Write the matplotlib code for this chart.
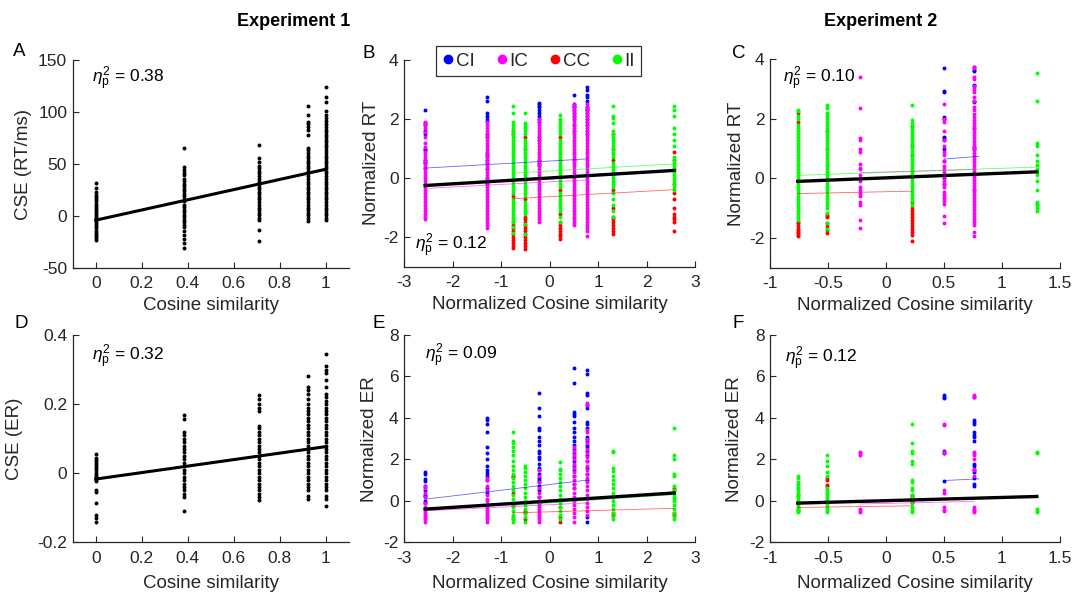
import matplotlib
matplotlib.use("Agg")
import matplotlib.pyplot as plt
from matplotlib.lines import Line2D
from matplotlib.ticker import FormatStrFormatter

plt.rcParams['font.family'] = ['Liberation Sans', 'DejaVu Sans']
plt.rcParams['axes.unicode_minus'] = False
plt.rcParams['mathtext.fontset'] = 'custom'
plt.rcParams['mathtext.it'] = 'Liberation Sans:italic'
plt.rcParams['mathtext.rm'] = 'Liberation Sans'

# ---------------- Experiment 1, raw CSE (panels A, D) ----------------
COS_X = [0.0, 0.383, 0.707, 0.924, 1.0]

A_Y = [
    [-23, -21, -19, -18, -16, -14, -12, -10, -8, -6, -4, -2, 0, 2, 4, 6, 8, 10, 12, 14, 16, 18, 20, 23, 27, 32],
    [-31, -26, -22, -18, -14, -11, -9, -6, -4, -1, 1, 4, 6, 9, 11, 14, 16, 19, 21, 24, 26, 29, 31, 34, 36, 39,
     41, 44, 47, 65],
    [-24, -13, -4, -2, 1, 3, 6, 8, 11, 13, 16, 18, 21, 23, 26, 28, 31, 33, 36, 38, 41, 43, 46, 48, 52, 56, 68],
    [-5, -2, 1, 3, 6, 8, 11, 13, 16, 18, 21, 23, 26, 28, 31, 33, 36, 38, 41, 43, 46, 48, 51, 53, 56, 58, 61, 63,
     65, 78, 83, 86, 88, 90, 97, 106],
    [-4, -2, 1, 3, 6, 8, 11, 13, 16, 18, 21, 23, 26, 28, 31, 33, 36, 38, 41, 43, 46, 48, 51, 53, 56, 58, 61, 63,
     66, 68, 71, 73, 76, 78, 81, 83, 86, 88, 91, 94, 97, 101, 110, 114, 124],
]
A_FIT = [-4, 45]

D_Y = [
    [-0.14, -0.13, -0.122, -0.085, -0.055, -0.05, -0.024, -0.018, -0.01, -0.004, 0.002, 0.008, 0.014, 0.02,
     0.026, 0.032, 0.038, 0.044, 0.055],
    [-0.108, -0.07, -0.06, -0.05, -0.04, -0.03, -0.02, -0.01, 0.0, 0.01, 0.02, 0.03, 0.04, 0.05, 0.06, 0.07,
     0.08, 0.09, 0.1, 0.11, 0.12, 0.157, 0.168],
    [-0.078, -0.07, -0.06, -0.05, -0.04, -0.03, -0.02, -0.01, 0.0, 0.01, 0.02, 0.03, 0.04, 0.05, 0.06, 0.07,
     0.08, 0.09, 0.1, 0.11, 0.12, 0.13, 0.138, 0.18, 0.19, 0.2, 0.215, 0.225],
    [-0.075, -0.065, -0.05, -0.04, -0.03, -0.02, -0.01, 0.0, 0.01, 0.02, 0.03, 0.04, 0.05, 0.06, 0.07, 0.08,
     0.09, 0.1, 0.11, 0.12, 0.13, 0.14, 0.15, 0.16, 0.17, 0.18, 0.19, 0.2, 0.215, 0.228, 0.24, 0.25, 0.28],
    [-0.095, -0.075, -0.065, -0.05, -0.04, -0.03, -0.02, -0.01, 0.0, 0.01, 0.02, 0.03, 0.04, 0.05, 0.06, 0.07,
     0.08, 0.09, 0.1, 0.11, 0.12, 0.13, 0.14, 0.15, 0.16, 0.17, 0.18, 0.19, 0.2, 0.21, 0.22, 0.23, 0.25, 0.27,
     0.29, 0.3, 0.31, 0.345],
]
D_FIT = [-0.017, 0.077]

CONDS = ['CI', 'IC', 'CC', 'II']
COLORS = {'CI': '#0000ff', 'IC': '#ff00ff', 'CC': '#ff0000', 'II': '#00ff00'}

# ---------------- Experiment 1, normalized RT (panel B) ----------------
B_X = {'CI': [-2.57, -1.30, -0.21, 0.50, 0.77], 'IC': [-2.57, -1.30, -0.21, 0.50, 0.77],
       'CC': [-0.76, -0.51, 0.22, 1.30, 2.57], 'II': [-0.76, -0.51, 0.22, 1.30, 2.57]}
B_CI = [
    [2.3, 1.85, 1.8, 1.6, 1.5, 1.0, 0.95, 0.6, 0.55, 0.5, 0.35],
    [2.75, 2.6, 2.2, 2.1, 2.0, 1.95, 1.5, 1.4, 0.8, 0.75, 0.6, 0.5, 0.3, 0.0, -0.2],
    [2.55, 2.5, 2.45, 2.4, 2.3, 2.2, 2.1, 2.0, 1.9, 1.4, 1.3, 0.6, 0.5, 0.45],
    [2.8, 2.5, 2.45, 2.4, 2.3, 2.2, 2.1, 2.0, 1.8, 1.6, 0.6],
    [3.1, 3.0, 2.8, 2.75, 2.6, 2.4, 2.35, 2.3, 2.2, 2.1, 2.0, 1.9, 1.8, 1.6, 1.5],
]
B_IC = [
    [1.9, 1.8, 1.7, 1.55, 1.4, 1.2, 1.05, 0.9, 0.8, 0.7, 0.6, 0.5, 0.4, 0.3, 0.2, 0.1, 0.0, -0.1, -0.2, -0.3,
     -0.4, -0.5, -0.6, -0.7, -0.8, -0.9, -1.0, -1.1, -1.2, -1.3, -1.4],
    [1.9, 1.8, 1.7, 1.6, 1.5, 1.4, 1.3, 1.2, 1.1, 1.0, 0.9, 0.8, 0.7, 0.6, 0.5, 0.4, 0.3, 0.2, 0.1, 0.0, -0.1,
     -0.2, -0.3, -0.4, -0.5, -0.6, -0.7, -0.8, -0.9, -1.0, -1.1, -1.2, -1.3, -1.4, -1.5, -1.6, -1.7],
    [2.0, 1.9, 1.8, 1.7, 1.6, 1.5, 1.4, 1.3, 1.2, 1.1, 1.0, 0.9, 0.8, 0.7, 0.6, 0.5, 0.4, 0.3, 0.2, 0.1, 0.0,
     -0.1, -0.2, -0.3, -0.4, -0.5, -0.6, -0.7, -0.8, -0.9, -1.0, -1.1, -1.2, -1.3, -1.4, -1.5],
    [2.5, 2.4, 2.3, 2.2, 2.1, 2.0, 1.9, 1.8, 1.7, 1.6, 1.5, 1.4, 1.3, 1.2, 1.1, 1.0, 0.9, 0.8, 0.7, 0.6, 0.5,
     0.4, 0.3, 0.2, 0.1, 0.0, -0.1, -0.2, -0.3, -0.4, -0.5, -0.6, -0.7, -0.8, -0.9, -1.0, -1.1, -1.2, -1.3,
     -1.4, -1.5, -1.6],
    [2.5, 2.4, 2.3, 2.2, 2.1, 2.0, 1.9, 1.8, 1.7, 1.6, 1.5, 1.4, 1.3, 1.2, 1.1, 1.0, 0.9, 0.8, 0.7, 0.6, 0.5,
     0.4, 0.3, 0.2, 0.1, 0.0, -0.1, -0.2, -0.3, -0.4, -0.5, -0.6, -0.7, -0.8, -0.9, -1.0, -1.1, -1.2, -1.3,
     -1.4, -1.5, -1.6, -1.7, -1.8, -1.95],
]
B_CC = [
    [-2.35, -2.3, -2.2, -2.1, -2.0, -1.9, -1.8, -1.7, -1.6, -1.5, -0.6, 1.5, 1.6],
    [-2.4, -2.3, -2.2, -2.1, -2.0, -1.9, -1.8, -1.7, -1.6, -1.5, -1.4, -1.3, -0.7, 1.0, 1.4],
    [-2.05, -1.95, -1.9, -1.8, -1.7, -1.6, -1.5, -1.2, -0.4, 0.6, 1.4],
    [-1.9, -1.8, -1.7, -1.6, -1.5, -1.4, -1.3, -1.0, -0.4, 0.6, 1.0, 1.5],
    [-1.8, -1.5, -1.4, -1.3, -1.2, -1.0, -0.7, -0.5, -0.2, 0.3, 0.6, 0.9],
]
B_II = [
    [2.45, 2.2, 1.9, 1.8, 1.7, 1.6, 1.5, 1.4, 1.3, 1.2, 1.1, 1.0, 0.9, 0.8, 0.7, 0.6, 0.5, 0.4, 0.3, 0.2, 0.1,
     0.0, -0.1, -0.2, -0.3, -0.4, -0.5, -0.7, -0.8, -0.9, -1.0, -1.1, -1.2, -1.3, -1.4, -1.5, -1.65, -1.85],
    [2.2, 1.85, 1.8, 1.7, 1.6, 1.5, 1.3, 1.2, 1.1, 1.0, 0.9, 0.8, 0.7, 0.6, 0.5, 0.4, 0.3, 0.2, 0.1, 0.0,
     -0.1, -0.2, -0.3, -0.4, -0.5, -0.6, -0.8, -0.9, -1.0, -1.1, -1.2, -1.55, -1.9],
    [2.15, 2.0, 1.9, 1.8, 1.7, 1.6, 1.5, 1.3, 1.2, 1.1, 1.0, 0.9, 0.8, 0.7, 0.6, 0.5, 0.4, 0.3, 0.2, 0.1, 0.0,
     -0.1, -0.2, -0.3, -0.5, -0.6, -0.7, -0.8, -0.9, -1.0, -1.1, -1.3, -1.5],
    [2.45, 2.1, 2.05, 1.85, 1.6, 1.5, 1.4, 1.3, 1.2, 1.1, 1.0, 0.9, 0.8, 0.7, 0.5, 0.4, 0.3, 0.2, 0.1, 0.0,
     -0.1, -0.2, -0.3, -0.5, -0.7, -0.9, -1.1, -1.3],
    [2.45, 2.3, 2.1, 1.7, 1.5, 1.3, 1.1, 0.7, 0.6, 0.5, 0.4, 0.3, 0.2, 0.1, 0.0, -0.1, -0.2, -0.3, -0.4],
]
B_FIT = {'CI': [(-2.57, 0.34), (0.77, 0.65)], 'IC': [(-2.57, -0.35), (0.77, -0.06)],
         'CC': [(-0.76, -0.70), (2.57, -0.39)], 'II': [(-0.76, 0.17), (2.57, 0.48)],
         'all': [(-2.57, -0.25), (2.57, 0.26)]}

# ---------------- Experiment 2, normalized RT (panel C) ----------------
C_X = {'CI': [0.50, 0.76], 'IC': [-0.22, 0.50, 0.76],
       'CC': [-0.76, -0.51, 0.22], 'II': [-0.76, -0.51, 0.22, 1.30]}
C_CI = [
    [3.7, 2.95, 2.9, 2.05, 2.0, 1.4, 1.35, 1.3, 1.0, 0.6, 0.0, -0.2],
    [3.75, 3.65, 3.6, 3.15, 3.1, 2.6, 2.55, 1.7, 1.05, 1.0, 0.1, -0.4],
]
C_IC = [
    [3.4, 2.35, 1.35, 1.3, 1.0, 0.9, 0.5, 0.35, 0.3, 0.1, -0.1, -0.3, -0.4, -0.5, -0.6, -0.8, -0.9, -1.4, -1.65],
    [2.5, 2.0, 1.9, 1.6, 1.3, 1.1, 0.9, 0.8, 0.6, 0.4, 0.3, 0.2, 0.1, 0.0, -0.1, -0.2, -0.3, -0.45, -0.55,
     -0.65, -0.75, -0.85, -1.25, -1.5],
    [3.75, 3.7, 3.4, 3.35, 3.1, 3.0, 2.9, 2.75, 2.6, 2.4, 2.3, 2.15, 2.05, 1.95, 1.85, 1.75, 1.65, 1.55, 1.45,
     1.35, 1.25, 1.15, 1.05, 0.95, 0.85, 0.75, 0.65, 0.55, 0.45, 0.35, 0.25, 0.15, 0.05, -0.05, -0.15, -0.25,
     -0.35, -0.45, -0.55, -0.65, -0.75, -0.85, -0.95, -1.05, -1.15, -1.25, -1.35, -1.45, -1.55, -1.8, -1.95],
]
C_CC = [
    [-1.95, -1.9, -1.85, -1.8, -1.75, -1.7, -1.6, -1.5, -1.45, 1.9, 2.2],
    [-1.85, -1.75, -1.6, -1.5, -1.3, -1.25, -1.2, 1.0, 1.6],
    [-2.1, -1.9, -1.8, -1.7, -1.6, -1.5, -1.4, -1.3, -1.2, -1.1, -1.0, -0.8, 0.25, 0.8, 1.1, 1.75],
]
C_II = [
    [2.3, 2.25, 2.1, 2.0, 1.8, 1.7, 1.6, 1.5, 1.4, 1.3, 1.2, 1.1, 1.0, 0.9, 0.8, 0.7, 0.6, 0.5, 0.4, 0.3, 0.2,
     0.1, 0.0, -0.1, -0.2, -0.3, -0.4, -0.5, -0.6, -0.7, -0.8, -0.9, -1.0, -1.1, -1.2, -1.3, -1.4],
    [2.45, 2.35, 2.2, 2.1, 2.0, 1.9, 1.8, 1.7, 1.6, 1.5, 1.4, 1.3, 1.2, 1.1, 1.0, 0.9, 0.8, 0.7, 0.6, 0.5, 0.4,
     0.3, 0.2, 0.1, 0.0, -0.1, -0.2, -0.3, -0.4, -0.5, -0.6, -0.7, -0.8, -0.9, -1.0, -1.15, -1.5, -1.7],
    [2.45, 1.95, 1.85, 1.75, 1.65, 1.55, 1.45, 1.35, 1.25, 1.15, 1.05, 0.95, 0.85, 0.75, 0.65, 0.55, 0.45,
     0.35, 0.25, 0.15, 0.05, -0.05, -0.15, -0.25, -0.35, -0.45, -0.55, -0.65, -0.75, -0.9],
    [3.55, 2.6, 1.2, 1.1, 0.8, 0.6, 0.45, 0.3, 0.2, 0.1, -0.1, -0.4, -0.8, -0.85, -0.9, -1.0, -1.1],
]
C_FIT = {'CI': [(0.50, 0.65), (0.80, 0.74)], 'IC': [(-0.22, 0.19), (0.76, 0.30)],
         'CC': [(-0.76, -0.51), (0.22, -0.43)], 'II': [(-0.76, 0.10), (1.30, 0.38)],
         'all': [(-0.76, -0.10), (1.30, 0.22)]}

# ---------------- Experiment 1, normalized ER (panel E) ----------------
E_X = B_X
E_CI = [
    [1.4, 1.3, 1.05, 0.95, 0.7, 0.5, 0.3, 0.25, 0.0, -0.1],
    [4.0, 3.9, 3.7, 3.3, 2.6, 2.3, 2.0, 1.7, 1.5, 1.35, 1.2, 1.0, 0.6, 0.4],
    [5.2, 4.5, 4.1, 3.5, 3.4, 3.1, 2.9, 2.7, 2.4, 2.3, 2.1, 2.0, 1.8, 1.6, 1.5, 1.3, 1.1, 1.0, 0.9, 0.7, 0.5,
     0.2],
    [6.4, 5.7, 4.3, 4.2, 4.1, 3.8, 3.5, 3.3, 3.1, 2.9, 2.7, 2.5, 2.3, 2.1, 1.9, 1.7, 1.5, 1.2, 0.8, 0.6],
    [6.3, 6.1, 5.2, 5.1, 4.6, 4.5, 3.8, 3.7, 3.5, 3.1, 3.0, 2.9, 2.7, 2.6, 2.4, 2.2, 1.9, 1.6, 1.3, 1.0, -0.8,
     -1.0],
]
E_IC = [
    [0.7, 0.6, 0.4, 0.2, -0.1, -0.3, -0.4, -0.5, -0.6, -0.7, -0.8, -0.9, -1.0],
    [1.1, 1.0, 0.7, 0.5, 0.3, 0.1, 0.0, -0.2, -0.3, -0.4, -0.5, -0.6, -0.7, -0.8, -0.9, -1.0],
    [1.5, 1.2, 0.9, 0.6, 0.4, 0.2, 0.0, -0.1, -0.2, -0.3, -0.4, -0.5, -0.6, -0.7, -0.8, -0.9, -1.0],
    [2.6, 2.4, 2.2, 2.0, 1.8, 1.6, 1.4, 1.2, 1.0, 0.8, 0.6, 0.4, 0.2, 0.0, -0.2, -0.4, -0.6, -0.8, -1.0],
    [4.7, 4.6, 3.4, 3.3, 3.0, 2.8, 2.5, 2.3, 2.1, 1.9, 1.7, 1.5, 1.3, 1.1, 0.9, 0.7, 0.5, 0.3, 0.1, -0.1, -0.3,
     -0.5, -0.7],
]
E_CC = [
    [1.2, 1.15, 0.4, -0.2, -0.9],
    [-0.5, -0.6, -0.9],
    [-0.8, -1.0, -0.3],
    [-0.6, -0.7, 0.2],
    [0.6, 0.5, -0.6, -0.7],
]
E_II = [
    [3.3, 2.9, 2.8, 2.6, 2.4, 2.2, 1.9, 1.7, 1.5, 1.3, 1.1, 0.9, 0.7, 0.5, 0.3, 0.1, -0.1, -0.3, -0.5, -0.7,
     -0.8, -0.9, -1.0],
    [1.7, 1.6, 1.4, 1.2, 1.0, 0.8, 0.6, 0.4, 0.2, 0.0, -0.2, -0.4, -0.6, -0.8, -1.0],
    [1.85, 1.55, 1.5, 1.3, 1.1, 0.9, 0.7, 0.5, 0.3, 0.1, -0.1, -0.3, -0.5, -0.7, -0.9],
    [2.4, 2.35, 1.6, 1.45, 1.2, 1.0, 0.8, 0.6, 0.4, 0.2, 0.0, -0.2, -0.4, -0.6, -0.8, -0.9],
    [3.5, 2.2, 2.0, 1.3, 1.2, 0.7, 0.5, 0.35, 0.2, 0.1, 0.0, -0.2, -0.4, -0.6, -0.8, -0.9],
]
E_FIT = {'CI': [(-2.57, 0.08), (0.77, 1.0)], 'IC': [(-2.57, -0.48), (0.77, -0.1)],
         'CC': [(-0.76, -0.58), (2.57, -0.36)], 'II': [(-0.76, -0.22), (2.57, 0.3)],
         'all': [(-2.57, -0.4), (2.57, 0.38)]}

# ---------------- Experiment 2, normalized ER (panel F) ----------------
F_X = {'CI': [0.50, 0.76], 'IC': [-0.22, 0.50, 0.76],
       'CC': [-0.76, -0.51, 0.22], 'II': [-0.76, -0.51, 0.22, 1.30]}
F_CI = [
    [5.1, 5.0, 4.95, 2.4, 2.3, 0.95],
    [5.0, 3.9, 3.8, 3.7, 3.3, 3.2, 3.1, 2.9, 1.8, 1.7, 1.5, 1.4, 1.1, 0.8, 0.7],
]
F_IC = [
    [2.35, 2.3, 2.2, -0.4, -0.5, -0.55],
    [3.7, 3.65, 2.35, 2.3, 0.5, 0.4, -0.3, -0.45, -0.5],
    [5.1, 5.0, 2.35, 2.3, 2.2, 2.0, 1.55, 1.5, 1.2, -0.3, -0.4, -0.45, -0.5, -0.55],
]
F_CC = [
    [-0.5, -0.4, 0.3],
    [1.1, 1.0, 0.75, 0.7],
    [0.3, 0.25, 0.15, 0.05, 0.0, -0.1],
]
F_II = [
    [1.2, 1.1, 0.9, 0.8, 0.7, 0.6, 0.5, 0.4, 0.3, 0.2, 0.1, 0.0, -0.1, -0.2, -0.3, -0.4, -0.5, -0.55],
    [2.2, 1.9, 1.7, 1.4, 1.2, 0.6, 0.5, 0.4, 0.3, 0.2, 0.1, 0.0, -0.1, -0.2, -0.3, -0.4, -0.5, -0.55],
    [3.7, 2.8, 2.4, 2.3, 1.9, 1.8, 1.0, 0.9, 0.6, 0.5, 0.3, 0.2, -0.1, -0.3, -0.4, -0.5, -0.55],
    [2.35, 2.3, -0.4, -0.5, -0.55],
]
F_FIT = {'CI': [(0.50, 0.98), (0.80, 1.06)], 'IC': [(-0.22, -0.15), (0.76, -0.03)],
         'CC': [(-0.76, -0.32), (0.22, -0.24)], 'II': [(-0.76, -0.14), (1.30, 0.18)],
         'all': [(-0.76, -0.11), (1.30, 0.21)]}

ETA = {'A': '0.38', 'B': '0.12', 'C': '0.10', 'D': '0.32', 'E': '0.09', 'F': '0.12'}

# ---------------------------------------------------------------------
W, H = 1086, 598
INK = '#262626'
fig = plt.figure(figsize=(W / 100, H / 100), dpi=100)


def px_axes(left, top, right, bottom):
    return fig.add_axes([left / W, 1 - bottom / H, (right - left) / W, (bottom - top) / H])


def style(ax, xlim, ylim, xticks, yticks, xlabel, ylabel, ylab_x, xlab_y):
    ax.set_xlim(xlim)
    ax.set_ylim(ylim)
    ax.set_xticks(xticks)
    ax.set_yticks(yticks)
    ax.xaxis.set_major_formatter(FormatStrFormatter('%g'))
    ax.yaxis.set_major_formatter(FormatStrFormatter('%g'))
    for s in ['top', 'right']:
        ax.spines[s].set_visible(False)
    for s in ['left', 'bottom']:
        ax.spines[s].set_color(INK)
        ax.spines[s].set_linewidth(0.9)
    ax.tick_params(direction='in', length=4, width=0.8, color=INK, labelcolor=INK, labelsize=12.5)
    ax.tick_params(axis='x', pad=6)
    ax.tick_params(axis='y', pad=4)
    ax.set_xlabel(xlabel, fontsize=13.5, color=INK)
    ax.set_ylabel(ylabel, fontsize=13.5, color=INK)
    ax.yaxis.set_label_coords(ylab_x, 0.5)
    ax.xaxis.set_label_coords(0.5, xlab_y)


def draw_raw(ax, ys_list, fit):
    for x, ys in zip(COS_X, ys_list):
        ax.scatter([x] * len(ys), ys, s=8, color='black', linewidths=0, zorder=2)
    ax.plot([0, 1], fit, color='black', lw=2.2, zorder=3)


def draw_norm(ax, xs, data, fits):
    for cond in CONDS:
        for x, ys in zip(xs[cond], data[cond]):
            ax.scatter([x] * len(ys), ys, s=8, color=COLORS[cond], linewidths=0, zorder=2)
    for cond in CONDS:
        (x0, y0), (x1, y1) = fits[cond]
        ax.plot([x0, x1], [y0, y1], color=COLORS[cond], lw=0.6, alpha=0.6, zorder=3)
    (x0, y0), (x1, y1) = fits['all']
    ax.plot([x0, x1], [y0, y1], color='black', lw=2.4, zorder=4)


axA = px_axes(72.7, 60, 349, 268)
draw_raw(axA, A_Y, A_FIT)
style(axA, (-0.1, 1.1), (-50, 150), [0, 0.2, 0.4, 0.6, 0.8, 1], [-50, 0, 50, 100, 150],
      'Cosine similarity', 'CSE (RT/ms)', -0.147, -0.14)

axB = px_axes(404.3, 60, 695, 266.7)
draw_norm(axB, B_X, {'CI': B_CI, 'IC': B_IC, 'CC': B_CC, 'II': B_II}, B_FIT)
style(axB, (-3, 3), (-3, 4), [-3, -2, -1, 0, 1, 2, 3], [-2, 0, 2, 4],
      'Normalized Cosine similarity', 'Normalized RT', -0.084, -0.14)

axC = px_axes(770, 59.3, 1060, 267.7)
draw_norm(axC, C_X, {'CI': C_CI, 'IC': C_IC, 'CC': C_CC, 'II': C_II}, C_FIT)
style(axC, (-1, 1.5), (-3, 4), [-1, -0.5, 0, 0.5, 1, 1.5], [-2, 0, 2, 4],
      'Normalized Cosine similarity', 'Normalized RT', -0.086, -0.14)

axD = px_axes(72.7, 335, 349, 542.3)
draw_raw(axD, D_Y, D_FIT)
style(axD, (-0.1, 1.1), (-0.2, 0.4), [0, 0.2, 0.4, 0.6, 0.8, 1], [-0.2, 0, 0.2, 0.4],
      'Cosine similarity', 'CSE (ER)', -0.18, -0.16)

axE = px_axes(404.3, 335, 695, 542.3)
draw_norm(axE, E_X, {'CI': E_CI, 'IC': E_IC, 'CC': E_CC, 'II': E_II}, E_FIT)
style(axE, (-3, 3), (-2, 8), [-3, -2, -1, 0, 1, 2, 3], [-2, 0, 2, 4, 6, 8],
      'Normalized Cosine similarity', 'Normalized ER', -0.091, -0.16)

axF = px_axes(770, 335, 1060, 542.3)
draw_norm(axF, F_X, {'CI': F_CI, 'IC': F_IC, 'CC': F_CC, 'II': F_II}, F_FIT)
style(axF, (-1, 1.5), (-2, 8), [-1, -0.5, 0, 0.5, 1, 1.5], [-2, 0, 2, 4, 6, 8],
      'Normalized Cosine similarity', 'Normalized ER', -0.093, -0.16)

# legend in panel B
handles = [Line2D([], [], marker='o', ls='none', color=COLORS[c], markersize=6) for c in CONDS]
leg = fig.legend(handles, CONDS, loc='upper left', bbox_to_anchor=(436 / W, 1 - 46 / H), ncol=4,
                 fontsize=13.5, frameon=True, fancybox=False, edgecolor='black', handlelength=0.6,
                 handletextpad=0.1, columnspacing=1.15, borderpad=0.35, borderaxespad=0)
leg.get_frame().set_linewidth(0.9)
for t in leg.get_texts():
    t.set_color(INK)

# panel letters and eta annotations
letters = {'A': (13, 52), 'B': (363, 53), 'C': (732, 53), 'D': (14, 323), 'E': (372, 323), 'F': (733, 323)}
for k, (x, y) in letters.items():
    fig.text(x / W, 1 - y / H, k, fontsize=13.5, color='black', va='center', ha='left')

eta_pos = {'A': (92, 82.5), 'B': (415, 250), 'C': (783, 83), 'D': (92, 361), 'E': (425, 360), 'F': (785, 363)}
for k, (x, y) in eta_pos.items():
    fig.text(x / W, 1 - y / H, r'$\eta_{\mathrm{p}}^{2}$' + ' = ' + ETA[k], fontsize=12.5, color='black',
             va='baseline', ha='left')

fig.text(294 / W, 1 - 21 / H, 'Experiment 1', fontsize=13, fontweight='bold', ha='center', va='center')
fig.text(881 / W, 1 - 21 / H, 'Experiment 2', fontsize=13, fontweight='bold', ha='center', va='center')

fig.savefig('out.png', dpi=100)
